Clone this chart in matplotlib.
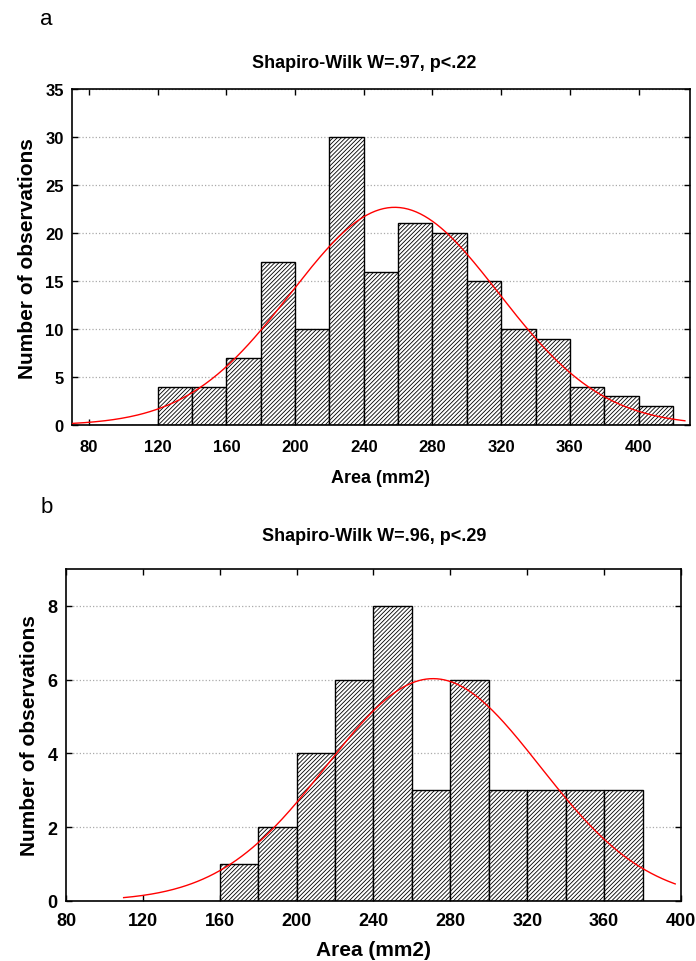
import numpy as np
import matplotlib.pyplot as plt

plt.rcParams['font.family'] = ['Liberation Sans', 'DejaVu Sans']
plt.rcParams['hatch.linewidth'] = 0.6

# panel a
a_edges = [80, 100, 120, 140, 160, 180, 200, 220, 240, 260, 280, 300, 320, 340, 360, 380, 400]
a_counts = [0, 0, 4, 4, 7, 17, 10, 30, 16, 21, 20, 15, 10, 9, 4, 3, 2]
a_n = 172
a_mean = 258.0
a_sd = 60.5
a_title = "Shapiro-Wilk W=.97, p<.22"

# panel b
b_edges = [120, 140, 160, 180, 200, 220, 240, 260, 280, 300, 320, 340, 360]
b_counts = [0, 0, 1, 2, 4, 6, 8, 3, 6, 3, 3, 3, 3]
b_n = 42
b_mean = 271.0
b_sd = 55.6
b_title = "Shapiro-Wilk W=.96, p<.29"

bin_w = 20


def normal_curve(x, n, mean, sd):
    return n * bin_w * np.exp(-0.5 * ((x - mean) / sd) ** 2) / (sd * np.sqrt(2 * np.pi))


def draw(ax, edges, counts, n, mean, sd, xr, xlim, ylim, yticks, xticks, fs, xpad):
    ax.bar(edges, counts, width=bin_w, align='edge', color='white',
           edgecolor='black', linewidth=1.0, hatch='////////', zorder=2)
    xs = np.linspace(xr[0], xr[1], 300)
    ax.plot(xs, normal_curve(xs, n, mean, sd), color='red', lw=1.0, zorder=3)
    ax.set_xlim(*xlim)
    ax.set_ylim(*ylim)
    ax.set_yticks(yticks)
    ax.set_xticks(xticks)
    ax.yaxis.grid(True, linestyle=':', color='#aaaaaa', lw=0.9, zorder=0)
    ax.set_axisbelow(True)
    ax.tick_params(direction='in', top=True, right=True, length=4, width=1,
                   labelsize=fs, pad=6)
    ax.tick_params(axis='x', pad=xpad)
    for lab in ax.get_xticklabels() + ax.get_yticklabels():
        lab.set_fontweight('bold')
    for s in ax.spines.values():
        s.set_linewidth(1.2)
    ax.set_ylabel("Number of observations", fontsize=15, fontweight='bold', labelpad=6)


fig = plt.figure(figsize=(6.96, 9.62), dpi=100)

ax1 = fig.add_axes([0.1034, 0.557, 0.888, 0.3494])
draw(ax1, a_edges, a_counts, a_n, a_mean, a_sd, (70, 427), (70, 430), (0, 35),
     range(0, 36, 5), range(80, 401, 40), 12, 10)
ax1.set_xlabel("Area (mm2)", fontsize=13, fontweight='bold', labelpad=11)

ax2 = fig.add_axes([0.0948, 0.0624, 0.8836, 0.3451])
draw(ax2, b_edges, b_counts, b_n, b_mean, b_sd, (110, 397), (80, 400), (0, 9),
     range(0, 9, 2), range(80, 401, 40), 13, 8)
ax2.set_xlabel("Area (mm2)", fontsize=15, fontweight='bold', labelpad=8)

fig.text(0.523, 0.9336, a_title, ha='center', va='center', fontsize=13, fontweight='bold')
fig.text(0.537, 0.4418, b_title, ha='center', va='center', fontsize=13, fontweight='bold')
fig.text(0.058, 0.98, "a", fontsize=16, va='center')
fig.text(0.058, 0.472, "b", fontsize=16, va='center')

fig.savefig("out.png", dpi=100)
